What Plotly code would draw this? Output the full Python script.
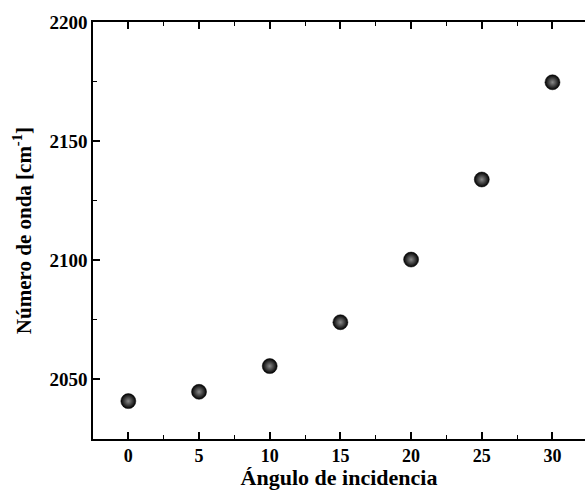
import plotly.graph_objects as go

angles = [0, 5, 10, 15, 20, 25, 30]
wavenumber = [2040.9, 2044.8, 2055.6, 2074.0, 2100.3, 2133.9, 2174.7]
x_ticks = [0, 5, 10, 15, 20, 25, 30]
y_ticks = [2050, 2100, 2150, 2200]

font_family = "Liberation Serif, Times New Roman, serif"

fig = go.Figure()
fig.add_trace(go.Scatter(
    x=angles, y=wavenumber, mode="markers",
    marker=dict(size=15, color="#000000",
                gradient=dict(type="radial", color="#8a8a8a"),
                line=dict(width=0.5, color="#000000")),
    showlegend=False,
))

fig.update_layout(
    width=585, height=490,
    margin=dict(l=93, r=0, t=22, b=51),
    plot_bgcolor="white", paper_bgcolor="white",
    font=dict(family=font_family, size=19, color="black"),
)
fig.update_xaxes(
    range=[-2.5, 32.3], tickvals=x_ticks,
    showline=True, linecolor="black", linewidth=1.5, mirror="ticks",
    ticks="inside", ticklen=7, tickwidth=1.5, tickcolor="black",
    minor=dict(ticks="inside", ticklen=4, tickwidth=1.2, dtick=2.5, tick0=0, tickcolor="black"),
    showgrid=False, zeroline=False,
    tickfont=dict(family=font_family, size=18, color="black", weight="bold"),
    title=dict(text="<b>Ángulo de incidencia</b>", standoff=5,
               font=dict(family=font_family, size=22, color="black")),
)
fig.update_yaxes(
    range=[2025, 2200], tickvals=y_ticks,
    showline=True, linecolor="black", linewidth=1.5, mirror=False,
    ticks="inside", ticklen=7, tickwidth=1.5, tickcolor="black",
    minor=dict(ticks="inside", ticklen=4, tickwidth=1.2, dtick=25, tick0=2000, tickcolor="black"),
    showgrid=False, zeroline=False,
    tickfont=dict(family=font_family, size=19, color="black", weight="bold"),
    title=dict(text="<b>Número de onda [cm<sup>-1</sup>]</b>", standoff=12,
               font=dict(family=font_family, size=21, color="black")),
)

fig.write_html("out.html")
